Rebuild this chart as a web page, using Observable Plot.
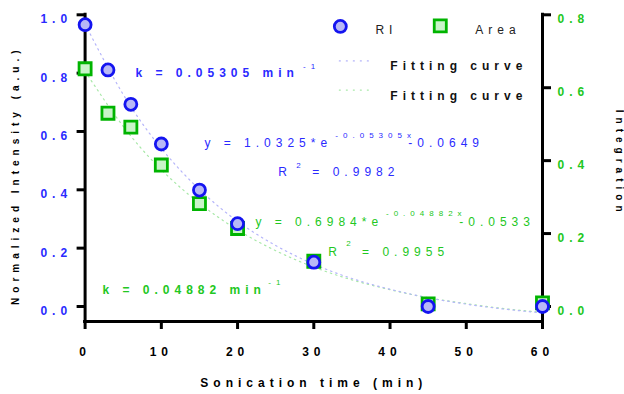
<!DOCTYPE html>
<html><head><meta charset="utf-8">
<script src="https://cdn.jsdelivr.net/npm/d3@7"></script>
<script src="https://cdn.jsdelivr.net/npm/@observablehq/plot@0.6"></script>
<style>
html,body{margin:0;padding:0;background:#fff;}
svg text{letter-spacing:5px;}
g[aria-label="sup"] text{letter-spacing:4px;}
g[aria-label="side-title"] text{letter-spacing:5.2px;}
</style></head><body><div id="chart"></div>
<script>
const time = [0, 3, 6, 10, 15, 20, 30, 45, 60];
const ri = [0.966, 0.811, 0.693, 0.557, 0.399, 0.284, 0.152, 0.0, 0.0];
const area = [0.652, 0.530, 0.492, 0.388, 0.282, 0.214, 0.124, 0.007, 0.010];
// Fitting curves
const fitTime = [0, 5, 10, 15, 20, 25, 30, 35, 40, 45, 50, 55, 60];
const fitRI = [0.968, 0.727, 0.542, 0.401, 0.292, 0.209, 0.145, 0.096, 0.059, 0.030, 0.008, -0.009, -0.022];
const fitArea = [0.645, 0.494, 0.375, 0.283, 0.210, 0.153, 0.108, 0.073, 0.046, 0.024, 0.008, -0.006, -0.016];
// Tick labels
const xTicks = [0, 10, 20, 30, 40, 50, 60];
const leftTicks = [0, 0.2, 0.4, 0.6, 0.8, 1.0];
const rightTicks = [0, 0.2, 0.4, 0.6, 0.8];

const ratio = 1.25; // right-axis value -> left-axis value
const xDomain = [0, 60];
const yDomain = [-0.0515, 1.0];

const BLUE = "#1414f0", BLUE_TXT = "#2a2aff", BLUE_FILL = "#b8b8f6";
const GREEN = "#00b400", GREEN_TXT = "#22c722", GREEN_FILL = "#c9f4c9";
const FIT_BLUE = "#b4b4fa", FIT_GREEN = "#a8e8a8";
const FONT = "'Liberation Sans', Arial, sans-serif";

const riData = time.map((t, i) => ({t, v: ri[i]}));
const areaData = time.map((t, i) => ({t, v: area[i] * ratio}));
const fitRIData = fitTime.map((t, i) => ({t, v: fitRI[i]}));
const fitAreaData = fitTime.map((t, i) => ({t, v: fitArea[i] * ratio}));

function label(str, x, y, o = {}) {
  return Plot.text([{x, y, s: str}], {x: "x", y: "y", text: "s", textAnchor: "start", lineAnchor: "middle",
    fontSize: 12, ...o});
}
function sup(str, x, y, fill) {
  return Plot.text([{x, y, s: str}], {x: "x", y: "y", text: "s", textAnchor: "start", lineAnchor: "middle",
    fontSize: 8, fill, ariaLabel: "sup"});
}

const chart = Plot.plot({
  width: 624, height: 394,
  marginLeft: 84.6, marginRight: 82, marginTop: 14.3, marginBottom: 73,
  style: {fontFamily: FONT, fontSize: "12px", background: "#fff"},
  x: {domain: xDomain, axis: null},
  y: {domain: yDomain, axis: null},
  marks: [
    // fitting curves
    Plot.line(fitAreaData, {x: "t", y: "v", curve: "natural", stroke: FIT_GREEN, strokeWidth: 1.2, strokeDasharray: "1.5,4"}),
    Plot.line(fitRIData, {x: "t", y: "v", curve: "natural", stroke: FIT_BLUE, strokeWidth: 1.2, strokeDasharray: "1.5,4"}),
    // axes lines
    Plot.ruleX([xDomain[0]], {strokeWidth: 3, strokeLinecap: "square"}),
    Plot.ruleX([xDomain[1]], {strokeWidth: 3, strokeLinecap: "square"}),
    Plot.ruleY([yDomain[0]], {strokeWidth: 3, strokeLinecap: "square"}),
    Plot.axisX(xTicks, {tickSize: 8, tickPadding: 18, strokeWidth: 3, fontWeight: "bold", fontSize: 12, tickFormat: d => String(d)}),
    Plot.axisY(leftTicks, {anchor: "left", tickSize: 8, tickPadding: 5, strokeWidth: 3, fill: BLUE_TXT, stroke: "black",
      fontWeight: "bold", fontSize: 12, lineAnchor: "top", tickFormat: d => d.toFixed(1)}),
    Plot.axisY(rightTicks.map(v => v * ratio), {anchor: "right", tickSize: 8, tickPadding: 7, strokeWidth: 3, fill: GREEN_TXT, stroke: "black",
      fontWeight: "bold", fontSize: 12, lineAnchor: "top", tickFormat: d => (d / ratio).toFixed(1)}),
    // data points
    Plot.dot(areaData, {x: "t", y: "v", symbol: "square", r: 6.8, stroke: GREEN, fill: GREEN_FILL, strokeWidth: 2.8}),
    Plot.dot(riData, {x: "t", y: "v", symbol: "circle", r: 6, stroke: BLUE, fill: BLUE_FILL, strokeWidth: 2.8}),
    // axis titles
    Plot.text(["Normalized Intensity (a.u.)"], {frameAnchor: "left", textAnchor: "middle", rotate: -90, dx: -69, dy: 7, fontWeight: "bold", fontSize: 10, ariaLabel: "side-title"}),
    Plot.text(["Integration"], {frameAnchor: "right", textAnchor: "middle", rotate: 90, dx: 77, dy: -5, fontWeight: "bold", fontSize: 10, ariaLabel: "side-title"}),
    Plot.text(["Sonication time (min)"], {frameAnchor: "bottom", dy: 65, fontWeight: "bold", fontSize: 12}),
    // legend
    Plot.dot([{x: 33.48, y: 0.960}], {x: "x", y: "y", r: 6, stroke: BLUE, fill: BLUE_FILL, strokeWidth: 2.8}),
    label("RI", 38.08, 0.948, {fill: "#222"}),
    Plot.dot([{x: 46.59, y: 0.962 }], {x: "x", y: "y", symbol: "square", r: 6.8, stroke: GREEN, fill: GREEN_FILL, strokeWidth: 2.8}),
    label("Area", 51.18, 0.948, {fill: "#222"}),
    Plot.line([{x: 33.35, y: 0.842}, {x: 37.28, y: 0.842}], {x: "x", y: "y", stroke: FIT_BLUE, strokeWidth: 1.2, strokeDasharray: "1,6"}),
    label("Fitting curve", 40.04, 0.825, {fill: "#111", fontWeight: "bold"}),
    Plot.line([{x: 33.35, y: 0.742}, {x: 37.28, y: 0.742}], {x: "x", y: "y", stroke: FIT_GREEN, strokeWidth: 1.2, strokeDasharray: "1,6"}),
    label("Fitting curve", 40.04, 0.722, {fill: "#111", fontWeight: "bold"}),
    // RI annotations
    label("k = 0.05305 min", 6.61, 0.800, {fill: BLUE_TXT, fontWeight: "bold"}),
    sup("-1", 28.59, 0.822, BLUE_TXT),
    label("y = 1.0325*e", 15.65, 0.561, {fill: BLUE_TXT}),
    sup("-0.05305x", 32.83, 0.588, BLUE_TXT),
    label("-0.0649", 42.40, 0.561, {fill: BLUE_TXT}),
    label("R", 25.35, 0.460, {fill: BLUE_TXT}),
    sup("2", 27.71, 0.485, BLUE_TXT),
    label("= 0.9982", 29.81, 0.460, {fill: BLUE_TXT}),
    // Area annotations
    label("y = 0.6984*e", 22.34, 0.290, {fill: GREEN_TXT}),
    sup("-0.04882x", 39.47, 0.319, GREEN_TXT),
    label("-0.0533", 49.08, 0.290, {fill: GREEN_TXT}),
    label("R", 31.91, 0.185, {fill: GREEN_TXT}),
    sup("2", 34.27, 0.216, GREEN_TXT),
    label("= 0.9955", 36.33, 0.185, {fill: GREEN_TXT}),
    label("k = 0.04882 min", 2.28, 0.055, {fill: GREEN_TXT, fontWeight: "bold"}),
    sup("-1", 24.04, 0.0835, GREEN_TXT)
  ]
});
document.getElementById("chart").appendChild(chart);
</script></body></html>
